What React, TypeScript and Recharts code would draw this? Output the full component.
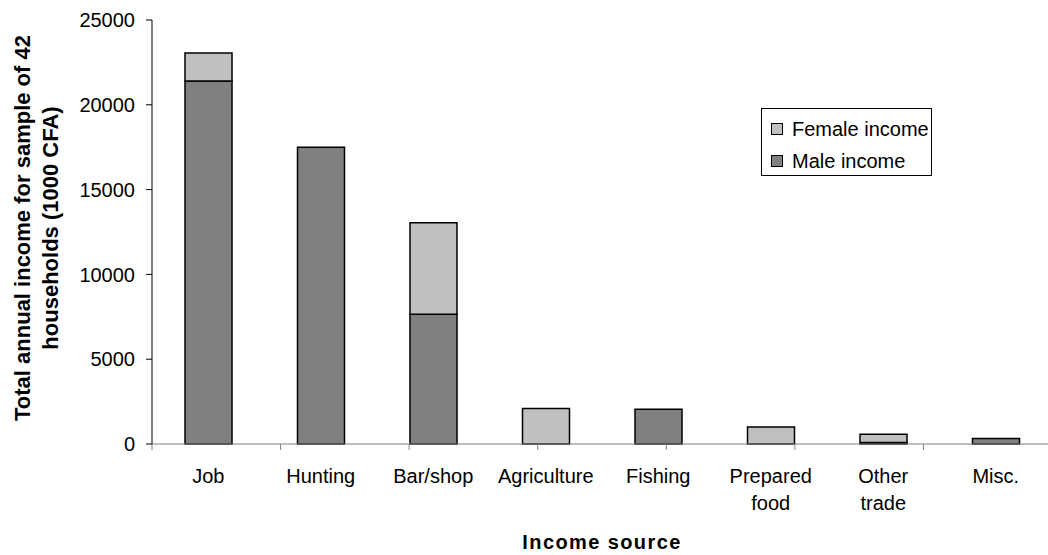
import React from "react";
import { Bar, BarChart, Legend, XAxis, YAxis } from "recharts";

// values, in 1000 CFA
const categories = [
  "Job",
  "Hunting",
  "Bar/shop",
  "Agriculture",
  "Fishing",
  "Prepared food",
  "Other trade",
  "Misc.",
];
const maleIncome = [21400, 17500, 7650, 0, 2050, 0, 90, 330];
const femaleIncome = [1650, 0, 5400, 2100, 0, 1000, 480, 0];
const yTicks = [0, 5000, 10000, 15000, 20000, 25000];

const FONT = '"Liberation Sans", Arial, sans-serif';

const data = categories.map((name, i) => ({
  name,
  male: maleIncome[i],
  female: femaleIncome[i],
}));

// category boundaries, so ticks sit between the bars like the original
const boundaryTicks = categories.map((_, i) => i).concat(categories.length);

function CategoryTick(props: any) {
  const { x, y, payload } = props;
  const lines = String(payload.value).split(" ");
  return (
    <text x={x} y={y} textAnchor="middle" fontSize={20} fill="#000" fontFamily={FONT}>
      {lines.map((l, i) => (
        <tspan key={i} x={x} dy={i === 0 ? 38 : 27}>
          {l}
        </tspan>
      ))}
    </text>
  );
}

function YTitle(props: any) {
  const vb = props.viewBox || {};
  const cy = (vb.y ?? 20) + (vb.height ?? 424) / 2 - 4;
  return (
    <text
      transform={`rotate(-90)`}
      textAnchor="middle"
      fontSize={22}
      fontWeight="bold"
      fill="#000"
      fontFamily={FONT}
    >
      <tspan x={-cy} y={30}>
        Total annual income for sample of 42
      </tspan>
      <tspan x={-cy} y={58}>
        households (1000 CFA)
      </tspan>
    </text>
  );
}

function XTitle(props: any) {
  const vb = props.viewBox || {};
  const cx = (vb.x ?? 152) + (vb.width ?? 900) / 2;
  const y = vb.y ?? 444;
  return (
    <text
      x={cx}
      y={y + 104}
      textAnchor="middle"
      fontSize={20}
      fontWeight="bold"
      letterSpacing={1.4}
      fill="#000"
      fontFamily={FONT}
    >
      Income source
    </text>
  );
}

function LegendBox(props: any) {
  const items = props.payload || [];
  return (
    <div
      style={{
        border: "1px solid #000",
        width: 171,
        height: 68,
        boxSizing: "border-box",
        padding: "4px 0 0 9px",
        fontFamily: FONT,
        fontSize: 20,
        background: "#fff",
      }}
    >
      {items.map((it: any) => (
        <div
          key={it.value}
          style={{ display: "flex", alignItems: "center", height: 32, lineHeight: "32px" }}
        >
          <span
            style={{
              display: "inline-block",
              width: 10,
              height: 10,
              background: it.color,
              border: "1px solid #000",
              marginRight: 9,
            }}
          />
          {it.value}
        </div>
      ))}
    </div>
  );
}

export default function App() {
  return (
    <div
      style={{
        position: "absolute",
        left: 0,
        top: 0,
        width: 1048,
        height: 555,
        overflow: "hidden",
        background: "#fff",
      }}
    >
      <BarChart
        width={1060}
        height={555}
        data={data}
        margin={{ top: 20, right: 8, left: 0, bottom: 0 }}
        barCategoryGap={0}
      >
        <XAxis
          xAxisId="bounds"
          type="number"
          domain={[0, categories.length]}
          ticks={boundaryTicks}
          allowDataOverflow
          height={1}
          stroke="#808080"
          tickSize={6}
          tickFormatter={() => ""}
        />
        <XAxis
          xAxisId="cat"
          dataKey="name"
          height={110}
          axisLine={false}
          tickLine={false}
          tickSize={0}
          tickMargin={0}
          interval={0}
          tick={<CategoryTick />}
          label={<XTitle />}
        />
        <YAxis
          domain={[0, 25000]}
          ticks={yTicks}
          width={152}
          stroke="#000"
          tickSize={6}
          tickMargin={11}
          tick={{ fill: "#000", fontSize: 20, fontFamily: FONT }}
          label={<YTitle />}
        />
        <Legend
          layout="vertical"
          align="center"
          verticalAlign="middle"
          content={<LegendBox />}
          wrapperStyle={{ position: "absolute", left: 761, top: 108, width: 171 }}
        />
        <Bar
          xAxisId="cat"
          dataKey="male"
          name="Male income"
          stackId="a"
          fill="#808080"
          stroke="#000"
          strokeWidth={1.5}
          barSize={47}
          isAnimationActive={false}
        />
        <Bar
          xAxisId="cat"
          dataKey="female"
          name="Female income"
          stackId="a"
          fill="#C0C0C0"
          stroke="#000"
          strokeWidth={1.5}
          barSize={47}
          isAnimationActive={false}
        />
      </BarChart>
    </div>
  );
}
